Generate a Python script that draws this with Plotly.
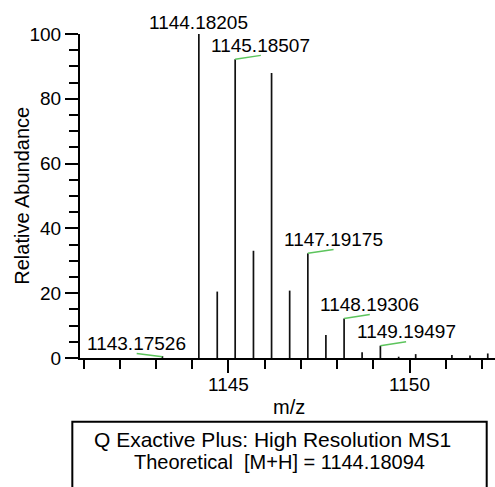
import plotly.graph_objects as go

# Peak list (m/z, relative abundance)
mz = [1143.17526, 1144.18205, 1144.69, 1145.18507, 1145.69, 1146.19, 1146.69,
      1147.19175, 1147.69, 1148.19306, 1148.69, 1149.19497, 1149.70, 1150.17,
      1151.17, 1151.67, 1152.16]
abund = [0.6, 100, 20.5, 92.2, 33.1, 88.0, 20.8, 32.3, 7.1, 12.2, 1.8, 3.8, 0.4,
         1.2, 0.9, 0.8, 1.4]

# Labelled peaks: side: +1 label to the right, -1 to the left, 0 directly above
lab_mz = [1143.17526, 1144.18205, 1145.18507, 1147.19175, 1148.19306, 1149.19497]
lab_ab = [0.6, 100, 92.2, 32.3, 12.2, 3.8]
lab_txt = ["1143.17526", "1144.18205", "1145.18507", "1147.19175", "1148.19306", "1149.19497"]
lab_side = [-1, 0, 1, 1, 1, 1]

x_range = [1140.90, 1152.36]
y_range = [0, 100]

FONT = "Liberation Sans, Arial, sans-serif"

fig = go.Figure()

xs, ys = [], []
for m, a in zip(mz, abund):
    xs += [m, m, None]
    ys += [0, a, None]
fig.add_trace(go.Scatter(x=xs, y=ys, mode="lines",
                         line=dict(color="#111111", width=1.7),
                         hoverinfo="skip", showlegend=False, cliponaxis=False))

# green connectors and labels
DX = 0.71   # connector horizontal reach (m/z units)
DY = 1.2    # connector rise (abundance units)
for m, a, t, s in zip(lab_mz, lab_ab, lab_txt, lab_side):
    if s != 0:
        ex, ey = m + s * DX, a + (DY if s > 0 else 0.8)
        y0 = a if s > 0 else a - 0.2
        fig.add_trace(go.Scatter(x=[m, ex], y=[y0, ey], mode="lines",
                                 line=dict(color="#5cc45c", width=1.5),
                                 hoverinfo="skip", showlegend=False))
        fig.add_annotation(x=ex, y=ey, text=t, showarrow=False,
                           xanchor="center", yanchor="middle", yshift=10,
                           font=dict(family=FONT, size=19, color="black"))
    else:
        fig.add_annotation(x=m, y=a, text=t, showarrow=False,
                           xanchor="center", yanchor="middle", yshift=12,
                           font=dict(family=FONT, size=19, color="black"))

# axis titles
fig.add_annotation(xref="paper", yref="paper", x=-0.1405, y=0.5,
                   text="Relative Abundance", textangle=-90, showarrow=False,
                   xanchor="center", yanchor="middle",
                   font=dict(family=FONT, size=20, color="black"))
fig.add_annotation(xref="paper", yref="paper", x=0.5036, y=-0.152,
                   text="m/z", showarrow=False,
                   xanchor="center", yanchor="middle",
                   font=dict(family=FONT, size=20, color="black"))

# info box
fig.add_shape(type="rect", xref="paper", yref="paper",
              x0=-0.0185, x1=0.98, y0=-0.41, y1=-0.197,
              line=dict(color="black", width=2), fillcolor="white")
fig.add_annotation(xref="paper", yref="paper", x=0.465, y=-0.253,
                   text="Q Exactive Plus: High Resolution MS1", showarrow=False,
                   xanchor="center", yanchor="middle",
                   font=dict(family=FONT, size=21, color="black"))
fig.add_annotation(xref="paper", yref="paper", x=0.48, y=-0.321,
                   text="Theoretical\u00a0 [M+H] = 1144.18094", showarrow=False,
                   xanchor="center", yanchor="middle",
                   font=dict(family=FONT, size=20, color="black"))

fig.update_layout(
    width=495, height=487,
    margin=dict(l=80, r=0, t=34, b=129),
    plot_bgcolor="white", paper_bgcolor="white",
    font=dict(family=FONT, size=19, color="black"),
    showlegend=False,
)
fig.update_xaxes(
    range=x_range, tick0=1145, dtick=5, ticks="outside", ticklen=13, tickwidth=2,
    tickcolor="black", showline=True, linecolor="black", linewidth=2,
    showgrid=False, zeroline=False, ticklabelstandoff=-5,
    minor=dict(dtick=1, tick0=1145, ticks="outside", ticklen=9, tickwidth=2, tickcolor="black"),
    tickfont=dict(size=19),
)
fig.update_yaxes(
    range=y_range, tick0=0, dtick=20, ticks="outside", ticklen=13, tickwidth=2,
    tickcolor="black", showline=True, linecolor="black", linewidth=2,
    showgrid=False, zeroline=False,
    minor=dict(dtick=5, ticks="outside", ticklen=9, tickwidth=2, tickcolor="black"),
    tickfont=dict(size=19),
)

fig.write_html("out.html")
